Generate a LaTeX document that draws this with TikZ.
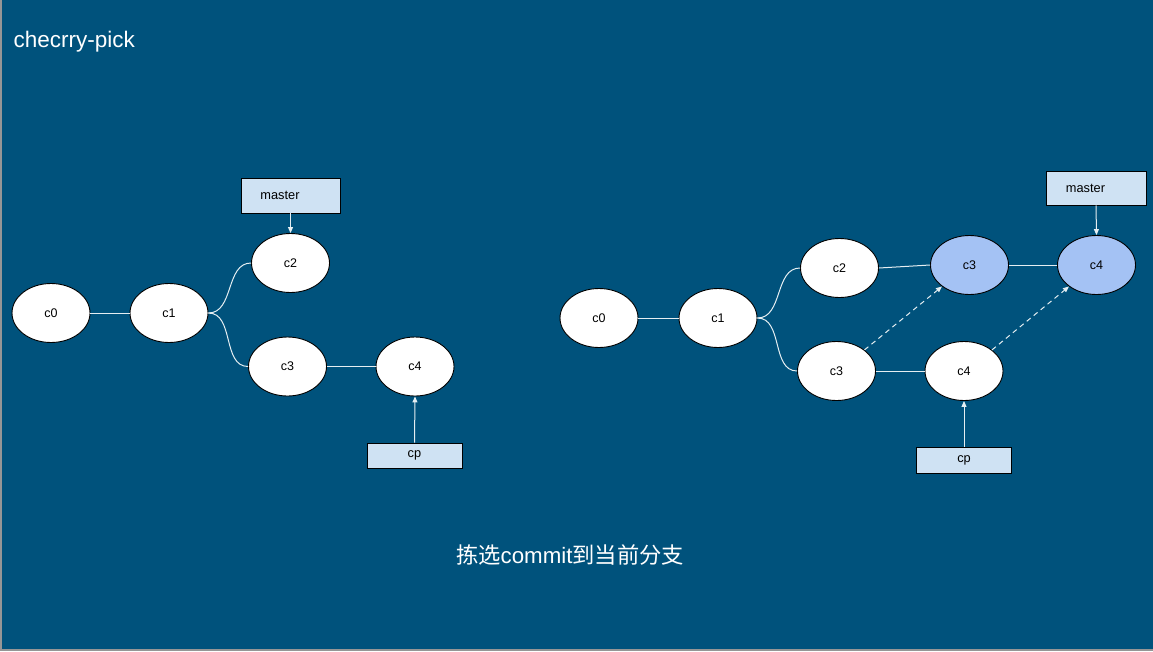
\documentclass[tikz,border=0pt]{standalone}
\usepackage{fontspec}
\setmainfont{Liberation Sans}
\newfontfamily\cjk{Noto Sans CJK SC}
\usetikzlibrary{shapes.geometric,arrows.meta}
\definecolor{bgblue}{RGB}{0,82,124}
\definecolor{edgegrey}{RGB}{150,150,150}
\definecolor{boxfill}{RGB}{207,226,243}
\definecolor{newfill}{RGB}{164,194,244}
\tikzset{
  commit/.style={ellipse, draw=black, line width=0.9pt, fill=white, minimum width=78pt, minimum height=59pt, inner sep=0pt, font=\fontsize{12.5}{14}\selectfont, text=black},
  newcommit/.style={commit, fill=newfill},
  refbox/.style={rectangle, draw=black, line width=0.9pt, fill=boxfill, inner sep=0pt, font=\fontsize{12.8}{14}\selectfont, text=black},
  link/.style={draw=white!90!bgblue, line width=1pt},
  ptr/.style={link, -{Triangle[width=5pt,length=6pt]}},
  pick/.style={link, dashed, dash pattern=on 5pt off 4pt, -{Triangle[width=5pt,length=6pt]}}
}
\begin{document}
\begin{tikzpicture}[x=1pt,y=-1pt]
\fill[bgblue] (0,0) rectangle (1153,651);
\fill[edgegrey] (0,0) rectangle (2,651);
\fill[edgegrey] (0,649) rectangle (1153,651);
\useasboundingbox (0,0) rectangle (1153,651);

\node[anchor=west, text=white, font=\fontsize{22.5}{26}\selectfont, inner sep=0pt] (title) at (13.5,42) {checrry-pick};

% left graph
\node[commit] (lc0) at (51,313) {c0};
\node[commit] (lc1) at (169,313) {c1};
\node[commit] (lc2) at (290.5,263) {c2};
\node[commit] (lc3) at (287.5,366.5) {c3};
\node[commit] (lc4) at (415,366.5) {c4};
\node[refbox, minimum width=99pt, minimum height=35pt] (lmaster) at (290.5,195.5) {master\hspace*{21pt}};
\node[refbox, minimum width=95pt, minimum height=25pt] (lcp) at (414.5,455.5) {\raisebox{-1pt}{cp}};
\draw[link] (lc0) -- (lc1);
\draw[link] (lc1.east) to[out=0,in=180] (lc2.west);
\draw[link] (lc1.east) to[out=0,in=180] (lc3.west);
\draw[link] (lc3) -- (lc4);
\draw[ptr] (lmaster.south) -- (lc2.north);
\draw[ptr] (lcp.north) -- (lc4.south);

% right graph
\node[commit] (rc0) at (599,318) {c0};
\node[commit] (rc1) at (718,318) {c1};
\node[commit] (rc2) at (839.5,268) {c2};
\node[newcommit] (rn3) at (969.5,265) {c3};
\node[newcommit] (rn4) at (1096.5,265) {c4};
\node[commit] (rc3) at (836.5,371) {c3};
\node[commit] (rc4) at (964,371) {c4};
\node[refbox, minimum width=100pt, minimum height=34pt] (rmaster) at (1096,188) {master\hspace*{21pt}};
\node[refbox, minimum width=95pt, minimum height=26pt] (rcp) at (964,460) {\raisebox{-1pt}{cp}};
\draw[link] (rc0) -- (rc1);
\draw[link] (rc1.east) to[out=0,in=180] (rc2.west);
\draw[link] (rc1.east) to[out=0,in=180] (rc3.west);
\draw[link] (rc2.east) -- (rn3.west);
\draw[link] (rn3) -- (rn4);
\draw[link] (rc3) -- (rc4);
\draw[pick] (rc3.37) -- (rn3.218);
\draw[pick] (rc4.37) -- (rn4.218);
\draw[ptr] (rmaster.south) -- (rn4.north);
\draw[ptr] (rcp.north) -- (rc4.south);

\node[text=white, font=\fontsize{22.3}{26}\selectfont, inner sep=0pt] (caption) at (570,555) {{\cjk 拣选}commit{\cjk 到当前分支}};
\end{tikzpicture}
\end{document}
